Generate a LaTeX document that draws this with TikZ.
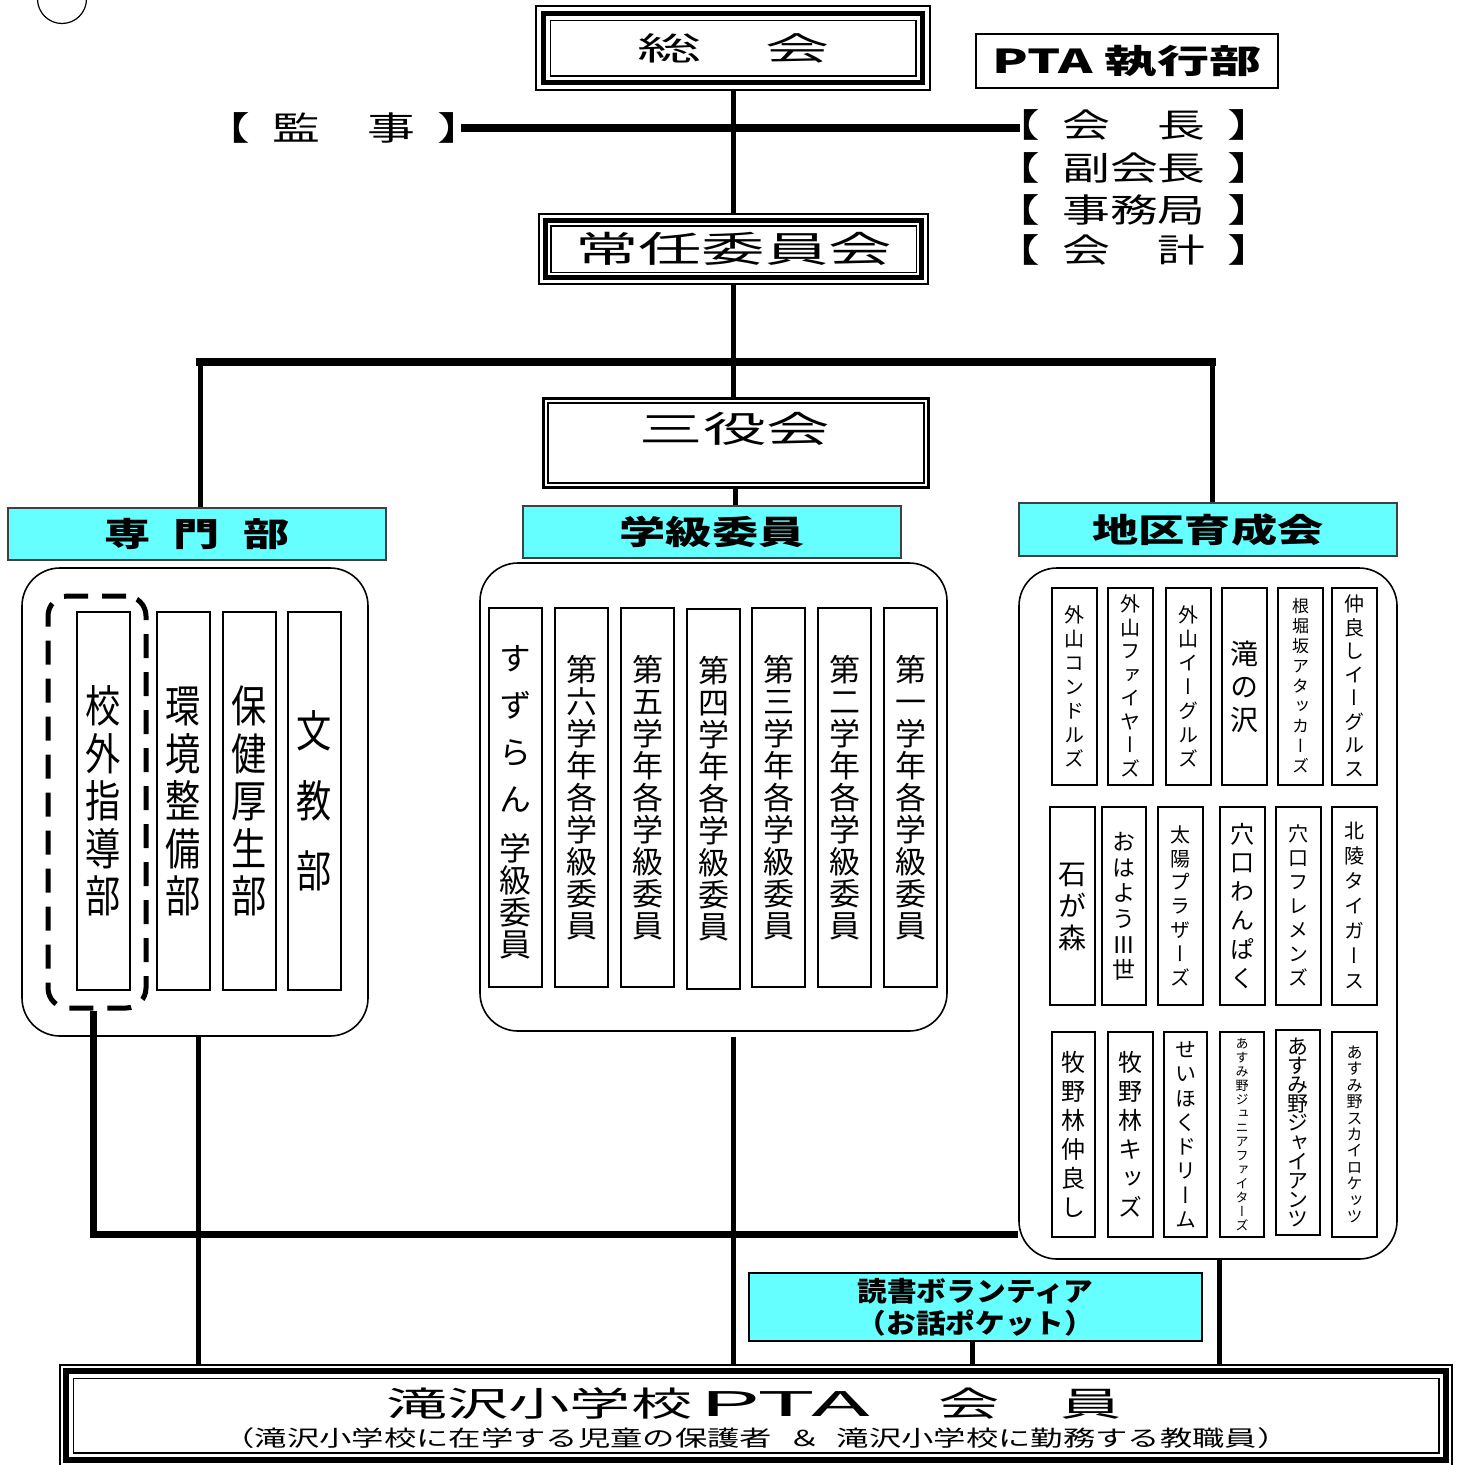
\documentclass[tikz,border=0pt]{standalone}
\usepackage{fontspec}
\usepackage{graphicx}
\setmainfont{Noto Sans CJK JP}
\newfontfamily\vjp[RawFeature=+vert]{Noto Sans CJK JP}
\definecolor{cyanbox}{HTML}{66FFFF}
\makeatletter
\newcommand\vstk[3]{\hbox to 0pt{\hss\vbox{\offinterlineskip\@tfor\vch:=#3\do{\hbox to 3em{\hss\vbox to #2{\vss\hbox{\vrule height .88em depth .12em width 0pt\scalebox{#1}[1]{\vch}}\vss}\hss}}}\hss}}
\makeatother
\newcommand\sx[2]{\scalebox{#1}[1]{#2}}
\tikzset{
  fr/.style={draw, line width=1.5pt, inner sep=0pt},
  col/.style={draw, line width=1.6pt, inner sep=0pt, fill=white},
  lcol/.style={col, minimum width=53, minimum height=378, font=\fontsize{44}{44}\selectfont\vjp},
  mcol/.style={col, minimum width=53, minimum height=379, font=\fontsize{31}{31}\selectfont\vjp},
  rcol/.style={col, minimum width=45},
  hdr/.style={draw=black!75, line width=1.6pt, fill=cyanbox, inner sep=0pt, minimum width=378, minimum height=52, font=\fontsize{33}{33}\selectfont\bfseries},
  cont/.style={draw, line width=1.6pt, rounded corners=38pt, inner sep=0pt},
  conn/.style={line width=5pt},
  bar/.style={line width=8pt},
  lbl/.style={inner sep=0pt, font=\fontsize{33}{33}\selectfont},
}
\newcommand\brk[1]{\sx{1.45}{【\hspace{0.45em}#1\hspace{0.45em}】}}
\begin{document}
\begin{tikzpicture}[x=1pt,y=-1pt]
\useasboundingbox (0,0) rectangle (1461,1465);
\fill[white] (0,0) rectangle (1461,1465);
\draw[line width=1.2pt] (62,-1) circle[radius=24.5];

% top boxes
\node[fr, minimum width=394, minimum height=84, font=\fontsize{32}{32}\selectfont] (sokai) at (733,48) {\sx{2.0}{総　会}};
\draw[line width=5pt] ([shift={(8.5,8.5)}]sokai.north west) rectangle ([shift={(-8.5,-8.5)}]sokai.south east);
\draw[line width=1.5pt] ([shift={(15,15)}]sokai.north west) rectangle ([shift={(-15,-15)}]sokai.south east);

\node[draw, line width=1.6pt, minimum width=302, minimum height=54, inner sep=0pt, font=\fontsize{33}{33}\selectfont\bfseries] (pta) at (1127,61) {\sx{1.58}{PTA 執行部}};

\node[lbl] (kanji) at (344,128) {\brk{監　事}};
\node[lbl] (kaicho) at (1134,125) {\brk{会　長}};
\node[lbl] (fuku) at (1134,168) {\brk{副会長}};
\node[lbl] (jimu) at (1134,210) {\brk{事務局}};
\node[lbl] (kaikei) at (1134,250) {\brk{会　計}};

\node[fr, minimum width=389, minimum height=70, font=\fontsize{36}{36}\selectfont] (jonin) at (733.5,249) {\sx{1.76}{常任委員会}};
\draw[line width=5pt] ([shift={(7,7)}]jonin.north west) rectangle ([shift={(-7,-7)}]jonin.south east);
\draw[line width=1.5pt] ([shift={(12.5,12.5)}]jonin.north west) rectangle ([shift={(-12.5,-12.5)}]jonin.south east);

\node[draw, line width=3pt, minimum width=385, minimum height=89, inner sep=0pt] (sanyaku) at (735.5,442.5) {};
\draw[line width=2pt] ([shift={(6,6)}]sanyaku.north west) rectangle ([shift={(-6,-6)}]sanyaku.south east);
\node[lbl, font=\fontsize{36}{36}\selectfont] (sanyakut) at (735,429) {\sx{1.76}{三役会}};

% headers
\node[hdr] (senmon) at (197,534) {\sx{1.4}{専\hspace{0.5em}門\hspace{0.5em}部}};
\node[hdr] (gakkyu) at (712,532) {\sx{1.4}{学級委員}};
\node[hdr, minimum height=53] (chiku) at (1208,529.5) {\sx{1.4}{地区育成会}};

% containers
\node[cont, minimum width=346, minimum height=468] (lcont) at (195,802) {};
\node[cont, minimum width=467, minimum height=468] (mcont) at (713.5,797) {};
\node[cont, minimum width=378, minimum height=691] (rcont) at (1208,913.5) {};

% left group
\node[draw, line width=5pt, dash pattern=on 24pt off 14pt, rounded corners=20pt, minimum width=98, minimum height=412, inner sep=0pt] (dash) at (97,802) {};
\node[lcol] (kogai) at (103.5,801) {\vstk{0.8}{47.5pt}{校外指導部}};
\node[lcol] (kankyo) at (183.5,801) {\vstk{0.8}{47.5pt}{環境整備部}};
\node[lcol] (hoken) at (249.5,801) {\vstk{0.8}{47.5pt}{保健厚生部}};
\node[lcol] (bunkyo) at (314.5,801) {\vstk{0.8}{70pt}{文教部}};

% middle group
\node[mcol, font=\fontsize{32}{32}\selectfont\vjp] (suzu) at (515.5,797.5) {\vbox{\offinterlineskip\vstk{1}{47pt}{すずらん}\kern10pt\vstk{1}{32pt}{学級委員}}};
\node[mcol] (g6) at (581.5,797.5) {\vstk{1}{32pt}{第六学年各学級委員}};
\node[mcol] (g5) at (647.5,797.5) {\vstk{1}{32pt}{第五学年各学級委員}};
\node[mcol, minimum height=380] (g4) at (713.5,799) {\vstk{1}{32pt}{第四学年各学級委員}};
\node[mcol] (g3) at (778.5,797.5) {\vstk{1}{32pt}{第三学年各学級委員}};
\node[mcol] (g2) at (844.5,797.5) {\vstk{1}{32pt}{第二学年各学級委員}};
\node[mcol] (g1) at (910.5,797.5) {\vstk{1}{32pt}{第一学年各学級委員}};

% right group row 1
\begin{scope}[every node/.append style={minimum height=197}]
\node[rcol, font=\fontsize{20}{20}\selectfont\vjp] (r1a) at (1074.5,686.5) {\vstk{1}{24pt}{外山コンドルズ}};
\node[rcol, font=\fontsize{20}{20}\selectfont\vjp] (r1b) at (1130.5,686.5) {\vstk{1}{23.5pt}{外山ファイヤーズ}};
\node[rcol, font=\fontsize{20}{20}\selectfont\vjp] (r1c) at (1188.5,686.5) {\vstk{1}{24pt}{外山イーグルズ}};
\node[rcol, font=\fontsize{28}{28}\selectfont\vjp] (r1d) at (1244.5,686.5) {\vstk{1}{33pt}{滝の沢}};
\node[rcol, font=\fontsize{17}{17}\selectfont\vjp] (r1e) at (1300.5,686.5) {\vstk{1}{20pt}{根堀坂アタッカーズ}};
\node[rcol, font=\fontsize{20}{20}\selectfont\vjp] (r1f) at (1354.5,686.5) {\vstk{1}{23.5pt}{仲良しイーグルス}};
\end{scope}
% row 2
\begin{scope}[every node/.append style={minimum height=198}]
\node[rcol, font=\fontsize{28}{28}\selectfont\vjp] (r2a) at (1072.5,906) {\vstk{1}{32pt}{石が森}};
\node[rcol, minimum width=44, font=\fontsize{23}{23}\selectfont\vjp] (r2b) at (1124,906) {\vstk{1}{25.6pt}{おはようⅢ世}};
\node[rcol, font=\fontsize{20}{20}\selectfont\vjp] (r2c) at (1180.5,906) {\vstk{1}{23.8pt}{太陽プラザーズ}};
\node[rcol, font=\fontsize{24}{24}\selectfont\vjp] (r2d) at (1242.5,906) {\vstk{1}{28.8pt}{穴口わんぱく}};
\node[rcol, font=\fontsize{20}{20}\selectfont\vjp] (r2e) at (1298.5,906) {\vstk{1}{24pt}{穴口フレメンズ}};
\node[rcol, font=\fontsize{20}{20}\selectfont\vjp] (r2f) at (1354.5,906) {\vstk{1}{25pt}{北陵タイガース}};
\end{scope}
% row 3
\begin{scope}[every node/.append style={minimum height=205}]
\node[rcol, minimum width=43, font=\fontsize{24}{24}\selectfont\vjp] (r3a) at (1073.5,1134.5) {\vstk{1}{29pt}{牧野林仲良し}};
\node[rcol, font=\fontsize{24}{24}\selectfont\vjp] (r3b) at (1130.5,1134.5) {\vstk{1}{29pt}{牧野林キッズ}};
\node[rcol, minimum width=43, font=\fontsize{21}{21}\selectfont\vjp] (r3c) at (1185.5,1134.5) {\vstk{1}{24.3pt}{せいほくドリーム}};
\node[rcol, minimum width=44, font=\fontsize{13}{13}\selectfont\vjp] (r3d) at (1242,1134.5) {\vstk{1}{14pt}{あすみ野ジュニアファイターズ}};
\node[rcol, minimum width=44, font=\fontsize{21}{21}\selectfont\vjp] (r3e) at (1298,1132.5) {\vstk{1}{19.2pt}{あすみ野ジャイアンツ}};
\node[rcol, font=\fontsize{16}{16}\selectfont\vjp] (r3f) at (1354.5,1134.5) {\vstk{1}{16.4pt}{あすみ野スカイロケッツ}};
\end{scope}

% bottom
\node[draw, line width=1.6pt, fill=cyanbox, minimum width=453, minimum height=68, inner sep=0pt, align=center, font=\fontsize{27}{32}\selectfont\bfseries] (doku) at (975.5,1307) {\sx{1.1}{読書ボランティア}\\\sx{1.1}{（お話ポケット）}};

\node[fr, minimum width=1392, minimum height=101] (member) at (756,1415.5) {};
\draw[line width=6pt] ([shift={(7,7)}]member.north west) rectangle ([shift={(-7,-7)}]member.south east);
\draw[line width=1.5pt] ([shift={(14,14)}]member.north west) rectangle ([shift={(-14,-14)}]member.south east);
\node[lbl, font=\fontsize{34}{34}\selectfont] (mtitle) at (754,1404) {\sx{1.8}{滝沢小学校\hspace{0.11em}\sx{1.58}{PTA}\hspace{1.11em}会　員}};
\node[lbl, font=\fontsize{22}{22}\selectfont] (msub) at (756,1438) {\sx{1.47}{（滝沢小学校に在学する児童の保護者\hspace{0.5em}＆\hspace{0.5em}滝沢小学校に勤務する教職員）}};

% connectors
\draw[conn] (sokai.south) -- (sokai.south |- jonin.north);
\coordinate (kstart) at ([xshift=-24pt]kanji.east);
\coordinate (kend) at ([xshift=27pt]kaicho.west);
\draw[bar] (kstart) -- (kstart -| kend);
\draw[conn] (jonin.south) -- (jonin.south |- sanyaku.north);
\coordinate (barL) at (200,362);
\coordinate (barR) at (1212,362);
\draw[bar, line cap=rect] (barL) -- (barR);
\draw[conn] (barL) -- (barL |- senmon.north);
\draw[conn] (barR) -- (barR |- chiku.north);
\draw[conn] (sanyaku.south) -- (sanyaku.south |- gakkyu.north);

\coordinate (lowL) at (93.5,1234);
\draw[line width=7pt] (lowL |- dash.south) -- (lowL) -- (lowL -| rcont.west);
\coordinate (lx) at (198,1100);
\coordinate (mx) at (733,1037);
\coordinate (rx) at (1219,1300);
\coordinate (dx) at (972,1350);
\draw[conn] (lx |- lcont.south) -- (lx |- member.north);
\draw[conn] (mx) -- (mx |- member.north);
\draw[conn] (rx |- rcont.south) -- (rx |- member.north);
\draw[conn] (dx |- doku.south) -- (dx |- member.north);
\end{tikzpicture}
\end{document}
